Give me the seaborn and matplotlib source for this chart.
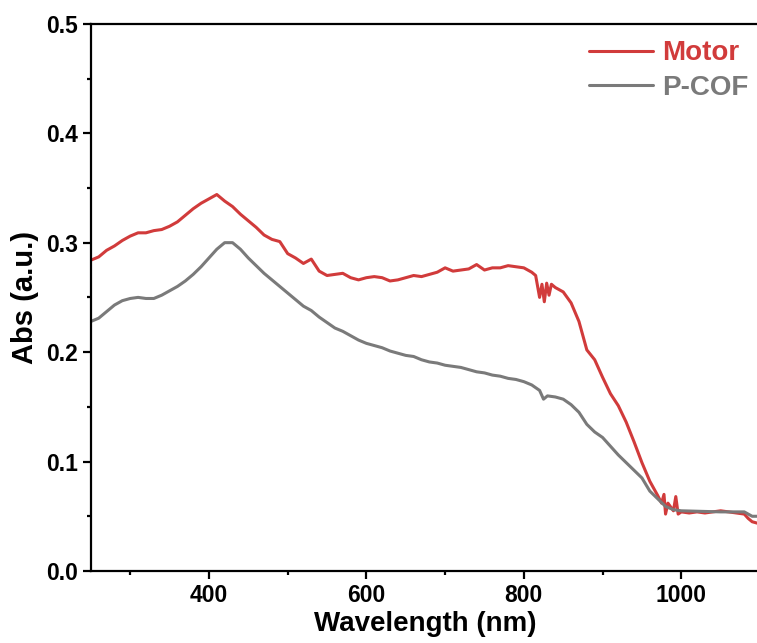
import numpy as np
import pandas as pd
import seaborn as sns
import matplotlib
matplotlib.use("Agg")
import matplotlib.pyplot as plt
from matplotlib.ticker import MultipleLocator

# Motor curve
motor_x = [250, 260, 270, 280, 290, 300, 310, 320, 330, 340, 350, 360, 370, 380, 390,
           400, 410, 420, 430, 440, 450, 460, 470, 480, 490, 500, 510, 520, 530, 540,
           550, 560, 570, 580, 590, 600, 610, 620, 630, 640, 650, 660, 670, 680, 690,
           700, 710, 720, 730, 740, 750, 760, 770, 780, 790, 800, 810, 815, 820, 823,
           826, 829, 832, 835, 840, 850, 860, 870, 880, 890, 900, 910, 920, 930, 940,
           950, 960, 970, 975, 978, 980, 983, 990, 993, 996, 1000, 1010, 1020, 1030,
           1040, 1050, 1060, 1070, 1080, 1085, 1090, 1100]
motor_y = [0.284, 0.287, 0.293, 0.297, 0.302, 0.306, 0.309, 0.309, 0.311, 0.312, 0.315,
           0.319, 0.325, 0.331, 0.336, 0.340, 0.344, 0.338, 0.333, 0.326, 0.320, 0.314,
           0.307, 0.303, 0.301, 0.290, 0.286, 0.281, 0.285, 0.274, 0.270, 0.271, 0.272,
           0.268, 0.266, 0.268, 0.269, 0.268, 0.265, 0.266, 0.268, 0.270, 0.269, 0.271,
           0.273, 0.277, 0.274, 0.275, 0.276, 0.280, 0.275, 0.277, 0.277, 0.279, 0.278,
           0.277, 0.273, 0.270, 0.250, 0.262, 0.246, 0.263, 0.252, 0.262, 0.259, 0.255,
           0.245, 0.228, 0.202, 0.193, 0.177, 0.162, 0.151, 0.136, 0.118, 0.099, 0.082,
           0.069, 0.062, 0.070, 0.052, 0.062, 0.055, 0.068, 0.052, 0.054, 0.053, 0.054,
           0.053, 0.054, 0.055, 0.054, 0.053, 0.052, 0.048, 0.045, 0.043]

# P-COF curve
pcof_x = [250, 260, 270, 280, 290, 300, 310, 320, 330, 340, 350, 360, 370, 380, 390,
          400, 410, 420, 430, 440, 450, 460, 470, 480, 490, 500, 510, 520, 530, 540,
          550, 560, 570, 580, 590, 600, 610, 620, 630, 640, 650, 660, 670, 680, 690,
          700, 710, 720, 730, 740, 750, 760, 770, 780, 790, 800, 810, 820, 825, 830,
          840, 850, 860, 870, 880, 890, 900, 910, 920, 930, 940, 950, 960, 970, 980,
          990, 1000, 1050, 1080, 1090, 1100]
pcof_y = [0.228, 0.231, 0.237, 0.243, 0.247, 0.249, 0.250, 0.249, 0.249, 0.252, 0.256,
          0.260, 0.265, 0.271, 0.278, 0.286, 0.294, 0.300, 0.300, 0.294, 0.286, 0.279,
          0.272, 0.266, 0.260, 0.254, 0.248, 0.242, 0.238, 0.232, 0.227, 0.222, 0.219,
          0.215, 0.211, 0.208, 0.206, 0.204, 0.201, 0.199, 0.197, 0.196, 0.193, 0.191,
          0.190, 0.188, 0.187, 0.186, 0.184, 0.182, 0.181, 0.179, 0.178, 0.176, 0.175,
          0.173, 0.170, 0.165, 0.157, 0.160, 0.159, 0.157, 0.152, 0.145, 0.134, 0.127,
          0.122, 0.114, 0.106, 0.099, 0.092, 0.085, 0.073, 0.066, 0.059, 0.056, 0.055,
          0.054, 0.054, 0.050, 0.050]

labels = ["Motor", "P-COF"]
colors = ["#d13b3b", "#7a7a7a"]

sns.set_style("ticks")
plt.rcParams['font.family'] = ['Liberation Sans', 'DejaVu Sans']
plt.rcParams['font.weight'] = 'bold'
plt.rcParams['text.color'] = 'black'
plt.rcParams['axes.labelcolor'] = 'black'

fig = plt.figure(figsize=(7.57, 6.43), dpi=100)
ax = fig.add_axes([0.120, 0.112, 0.884, 0.851])

sns.lineplot(x=motor_x, y=motor_y, ax=ax, color=colors[0], lw=2.2, label=labels[0])
sns.lineplot(x=pcof_x, y=pcof_y, ax=ax, color=colors[1], lw=2.2, label=labels[1])

ax.set_xlim(250, 1100)
ax.set_ylim(0, 0.5)
ax.xaxis.set_major_locator(MultipleLocator(200))
ax.xaxis.set_minor_locator(MultipleLocator(100))
ax.yaxis.set_major_locator(MultipleLocator(0.1))
ax.yaxis.set_minor_locator(MultipleLocator(0.05))
ax.yaxis.set_major_formatter(matplotlib.ticker.FormatStrFormatter('%.1f'))

for s in ['left', 'bottom', 'top']:
  ax.spines[s].set_linewidth(1.6)
  ax.spines[s].set_color('black')
ax.spines['right'].set_visible(False)
ax.tick_params(which='major', direction='out', length=5.5, width=1.6, labelsize=16.5,
               pad=4, top=False, right=False, colors='black')
ax.tick_params(which='minor', direction='out', length=3, width=1.6, top=False, right=False,
               colors='black')
for t in ax.get_xticklabels() + ax.get_yticklabels():
  t.set_fontweight('bold')

ax.set_xlabel("Wavelength (nm)", fontsize=20, fontweight='bold', labelpad=3)
ax.set_ylabel("Abs (a.u.)", fontsize=21, fontweight='bold', labelpad=5)

leg = ax.legend(loc='upper right', bbox_to_anchor=(1.007, 1.0), frameon=False,
                fontsize=20, handlelength=2.3, handletextpad=0.3, labelspacing=0.3,
                borderaxespad=0.2)
for txt, c in zip(leg.get_texts(), colors):
  txt.set_color(c)
  txt.set_fontweight('bold')

fig.savefig("out.png", dpi=100)
